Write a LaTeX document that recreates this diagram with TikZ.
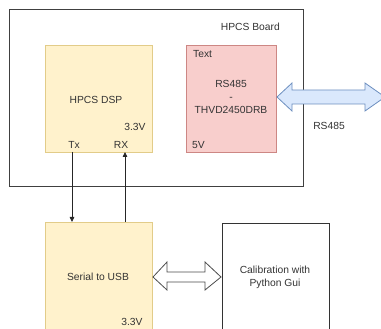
\documentclass[tikz,border=0pt]{standalone}
\usepackage{fontspec}
\setmainfont{Liberation Sans}
\usetikzlibrary{arrows.meta}
\definecolor{yfill}{HTML}{FFF2CC}
\definecolor{ydraw}{HTML}{D6B656}
\definecolor{rfill}{HTML}{F8CECC}
\definecolor{rdraw}{HTML}{B85450}
\definecolor{bfill}{HTML}{DAE8FC}
\definecolor{bdraw}{HTML}{6C8EBF}
\definecolor{txt}{HTML}{333333}
\tikzset{
  x=1pt,y=-1pt,
  lbl/.style={font=\fontsize{10.3}{13}\selectfont, text=txt, inner sep=0pt},
  boxy/.style={draw=ydraw!70, fill=yfill, line width=0.8pt},
  boxr/.style={draw=rdraw!70, fill=rfill, line width=0.8pt},
  conn/.style={draw=black!85, line width=0.8pt, -{Triangle[length=5pt,width=4.5pt]}},
}
\begin{document}
\begin{tikzpicture}
\useasboundingbox (0,0) rectangle (381,329);
% board
\draw[black!75, line width=0.9pt] (9,9) rectangle (303,186);
\node[lbl, anchor=east] (board) at (280,27) {HPCS Board};
% DSP
\draw[boxy] (45,45) rectangle (152,152);
\node[lbl] (dsp) at (96,100) {HPCS DSP};
\node[lbl] (dspv) at (135,127) {3.3V};
\node[lbl] (tx) at (74,145) {Tx};
\node[lbl] (rx) at (121,145) {RX};
% RS485 box
\draw[boxr] (186,45) rectangle (276,152);
\node[lbl, anchor=west] (t) at (193,54) {Text};
\node[lbl, align=center] (rs) at (231,97) {RS485\\-\\THVD2450DRB};
\node[lbl, anchor=west] (v5) at (192,145) {5V};
% blue double arrow
\draw[bdraw, fill=bfill, line width=0.8pt]
  (277,97) -- (292,83) -- (292,90) -- (365,90) -- (365,83) -- (385,97)
  -- (365,111) -- (365,104) -- (292,104) -- (292,111) -- cycle;
\node[lbl] (rsl) at (329,126) {RS485};
% Serial to USB
\draw[boxy] (45,222) rectangle (152,332);
\node[lbl] (ser) at (98,277) {Serial to USB};
\node[lbl] (serv) at (132,322) {3.3V};
% Calibration
\draw[black!80, line width=0.8pt] (222,332) -- (222,223) -- (329,223) -- (329,332);
\node[lbl, align=center] (cal) at (275,277) {Calibration with\\Python Gui};
% hollow double arrow
\draw[black!70, fill=white, line width=0.8pt]
  (153,277) -- (167,262) -- (167,272) -- (205,272) -- (205,262) -- (221,277)
  -- (205,290) -- (205,282) -- (167,282) -- (167,290) -- cycle;
% Tx / RX connectors
\coordinate (txa) at (72,152);
\coordinate (txb) at (72,222);
\coordinate (rxa) at (125,222);
\coordinate (rxb) at (125,152);
\draw[conn] (txa) -- (txb);
\draw[conn] (rxa) -- (rxb);
\end{tikzpicture}
\end{document}
